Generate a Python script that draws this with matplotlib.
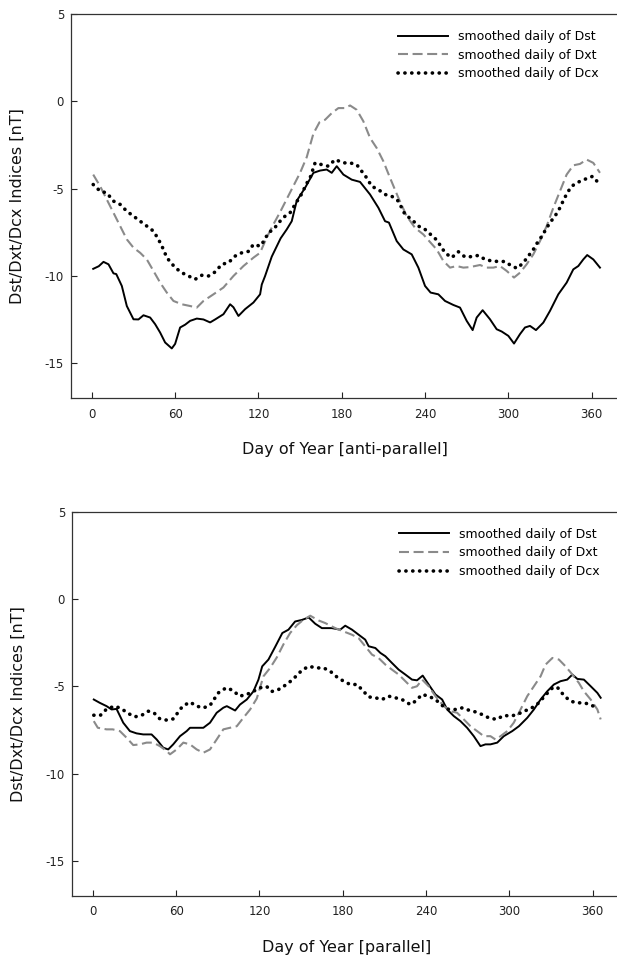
import numpy as np
import matplotlib
matplotlib.use("Agg")
import matplotlib.pyplot as plt

plt.rcParams['font.family'] = ['DejaVu Sans']
plt.rcParams['axes.unicode_minus'] = False

# ---- anti-parallel (top panel) ----
ap_dst_day = [1, 5, 8.4, 12, 15.6, 17.6, 21.6, 25.2, 30, 33.6, 37.2, 42, 45.6, 49.2, 52.8, 57.6,
              60, 63.6, 67.2, 70.8, 75.6, 80.4, 85.2, 88.8, 94.8, 99.6, 102, 105.6, 110.4, 116.4,
              121.2, 122.4, 124.8, 129.6, 136, 140.4, 144, 147.6, 153.6, 159.6, 164.4, 169.2, 172.8,
              176.4, 181.2, 187.2, 193.2, 200.4, 206.4, 211.2, 214, 219.6, 224.4, 230.4, 235.2, 240,
              244, 249.6, 254.4, 260.4, 265.2, 270, 274.3, 277.2, 281.5, 286.8, 291.6, 295.2, 300,
              304.1, 308.4, 312, 315.6, 319.9, 325.2, 330, 336, 342, 346.8, 350.4, 354, 356.8, 361.2, 366]
ap_dst = [-9.6, -9.45, -9.2, -9.34, -9.86, -9.9, -10.58, -11.73, -12.49, -12.5, -12.26, -12.39, -12.77,
          -13.25, -13.82, -14.16, -13.9, -12.96, -12.8, -12.58, -12.45, -12.5, -12.67, -12.5, -12.2,
          -11.63, -11.8, -12.3, -11.91, -11.53, -11.06, -10.5, -10.01, -8.9, -7.85, -7.34, -6.87, -5.7,
          -4.96, -4.1, -3.97, -3.91, -4.1, -3.72, -4.2, -4.49, -4.62, -5.34, -6.1, -6.87, -6.95, -8.01,
          -8.49, -8.77, -9.53, -10.58, -10.96, -11.06, -11.44, -11.67, -11.82, -12.58, -13.11, -12.39,
          -11.97, -12.49, -13.06, -13.19, -13.44, -13.88, -13.34, -12.96, -12.87, -13.11, -12.68, -12.01,
          -11.06, -10.39, -9.63, -9.44, -9.06, -8.81, -9.06, -9.53]

ap_dxt_day = [1, 6, 10.8, 15.6, 20.4, 25.2, 30, 34.8, 39.6, 44.4, 49.2, 54, 58.8, 64.8, 70.8, 75.6,
              80.4, 87.6, 94.8, 102, 109.2, 116.4, 121.2, 126, 130.8, 135.6, 140.4, 145.2, 150, 154.8,
              159.6, 164, 168, 172.8, 177.6, 182.4, 186, 190.8, 195.6, 200.4, 205.2, 210, 214.8, 220.8,
              226.8, 232.8, 238.8, 244, 248.4, 253.2, 258, 262.8, 267.6, 272.4, 279.6, 284.4, 289.2, 294,
              298.8, 304.1, 308.4, 313.2, 318, 322.8, 327.6, 332.4, 337.2, 342, 346.8, 351.6, 356.4,
              361.2, 366]
ap_dxt = [-4.2, -4.87, -5.63, -6.39, -7.15, -7.91, -8.39, -8.68, -9.06, -9.72, -10.39, -10.96, -11.44,
          -11.63, -11.73, -11.82, -11.44, -11.06, -10.67, -10.01, -9.44, -8.96, -8.68, -7.8, -7.05,
          -6.35, -5.6, -4.85, -4.1, -3.2, -1.85, -1.2, -1.06, -0.68, -0.39, -0.39, -0.24, -0.49, -1.15,
          -2.1, -2.68, -3.44, -4.39, -5.53, -6.58, -7.25, -7.63, -8.1, -8.49, -9.15, -9.53, -9.44, -9.53,
          -9.5, -9.38, -9.53, -9.53, -9.44, -9.72, -10.1, -9.82, -9.34, -8.77, -8.01, -7.15, -6.1,
          -5.15, -4.2, -3.67, -3.59, -3.34, -3.53, -4.1]

ap_dcx_day = [1, 6, 10.8, 15.6, 20.4, 25.2, 30, 34.8, 39.6, 44.4, 48, 51.6, 54, 60, 64.8, 69.6, 74.4,
              79.2, 84, 88.8, 93.6, 98.4, 103.2, 108, 112.8, 116.4, 121.2, 124, 127.2, 130.8, 135.6,
              139.2, 142.8, 146.4, 151.2, 154.8, 157.2, 160.8, 165.6, 170.4, 175.2, 181.2, 186, 190.8,
              194.4, 198, 201.6, 206.4, 211.2, 216, 220.8, 225.6, 230.4, 235.2, 240, 244, 247.9, 251.3,
              254.4, 259.2, 264, 268.8, 273.6, 278.4, 283.2, 288, 292.8, 297.6, 302.4, 306.4, 310.8,
              314.4, 318, 321.6, 324.7, 327.6, 331.2, 334.3, 337.2, 339.6, 342.4, 345.6, 349.2, 352.8,
              356.4, 360.7, 365.5]
ap_dcx = [-4.77, -5.15, -5.25, -5.72, -5.91, -6.3, -6.58, -6.87, -7.15, -7.44, -7.91, -8.49, -8.96,
          -9.53, -9.82, -10.01, -10.2, -9.97, -10.01, -9.78, -9.34, -9.25, -8.87, -8.68, -8.6, -8.2,
          -8.3, -8.0, -7.53, -7.34, -6.87, -6.58, -6.39, -5.91, -5.3, -4.7, -4.39, -3.53, -3.63, -3.72,
          -3.34, -3.53, -3.53, -3.63, -4.01, -4.39, -4.87, -5.06, -5.34, -5.44, -5.72, -6.49, -6.77,
          -7.15, -7.34, -7.63, -7.91, -8.29, -8.68, -8.96, -8.62, -8.92, -8.9, -8.83, -9.06, -9.15,
          -9.18, -9.18, -9.44, -9.57, -9.25, -8.87, -8.49, -8.01, -7.67, -7.25, -6.83, -6.49, -6.1,
          -5.69, -5.25, -4.87, -4.68, -4.54, -4.43, -4.3, -4.73]

# ---- parallel (bottom panel) ----
p_dst_day = [0.7, 5, 9.9, 13.5, 17.1, 21.9, 26.7, 31.5, 36.3, 42.3, 46, 50.7, 54.3, 57.9, 62.8, 67.6,
             70, 74.8, 79.6, 84.4, 89.2, 94, 96.5, 102.5, 106, 110.9, 115.7, 119.3, 122, 126.5, 131.3,
             136.5, 140.9, 145.7, 150.6, 155.5, 160.2, 165, 172.2, 178.2, 181.8, 186.7, 191.5, 196.2,
             198.7, 203.5, 207.1, 210.7, 215.5, 220.3, 225.1, 229.9, 233.5, 237.6, 241.9, 246.8, 251.6,
             255.2, 260, 264.8, 269.6, 274.4, 279.2, 282.8, 286.4, 291.3, 296, 302.1, 306.9, 312.9,
             317.7, 322.5, 327.3, 332.1, 336.9, 341.7, 345.4, 349, 353.7, 358.6, 363.4, 365.8]
p_dst = [-5.76, -5.95, -6.14, -6.33, -6.3, -7.09, -7.57, -7.7, -7.76, -7.76, -8.05, -8.52, -8.62, -8.33,
         -7.86, -7.57, -7.38, -7.38, -7.38, -7.09, -6.52, -6.23, -6.14, -6.39, -6.05, -5.76, -5.29, -4.62,
         -3.86, -3.47, -2.75, -1.95, -1.76, -1.29, -1.2, -1.06, -1.42, -1.67, -1.67, -1.76, -1.53, -1.76,
         -2.05, -2.33, -2.71, -2.81, -3.09, -3.28, -3.67, -4.05, -4.33, -4.62, -4.66, -4.39, -4.9, -5.47,
         -5.76, -6.33, -6.71, -7.0, -7.38, -7.86, -8.43, -8.33, -8.33, -8.23, -7.86, -7.57, -7.29, -6.81,
         -6.33, -5.76, -5.29, -4.9, -4.71, -4.62, -4.33, -4.58, -4.62, -5.0, -5.38, -5.66]

p_dxt_day = [0.7, 3.6, 9.9, 14.3, 19.5, 24.3, 29.1, 33.9, 38.7, 43.5, 48.3, 53.2, 55.6, 60.4, 65.2, 70,
             74.8, 79.6, 84.4, 89.2, 94, 98.8, 103.7, 108.4, 113.3, 118.1, 122.9, 127.7, 132.5, 137.3,
             142.1, 147, 151.7, 156.6, 162.6, 167.4, 174.6, 180.6, 186.7, 191.4, 196.2, 201.1, 205.8,
             210.7, 215.5, 220.3, 225.1, 229.9, 233.5, 237.2, 241.9, 246.8, 252.8, 257.6, 262.4, 267.2,
             272, 276.8, 281.6, 286.4, 290, 293.7, 298.5, 303.2, 308.1, 312.9, 317.7, 322.5, 326.1, 331,
             335.7, 340.5, 345.4, 350.1, 353.7, 358.6, 363.4, 365.8]
p_dxt = [-7.0, -7.38, -7.47, -7.47, -7.57, -7.95, -8.37, -8.33, -8.23, -8.23, -8.43, -8.71, -8.9, -8.62,
         -8.23, -8.33, -8.62, -8.81, -8.62, -8.05, -7.47, -7.38, -7.29, -6.81, -6.33, -5.7, -4.43, -3.95,
         -3.35, -2.6, -1.95, -1.5, -1.19, -0.96, -1.23, -1.38, -1.67, -1.86, -2.05, -2.24, -2.71, -3.19,
         -3.38, -3.76, -4.05, -4.33, -4.71, -5.09, -5.0, -4.62, -5.0, -5.57, -6.14, -6.43, -6.52, -6.9,
         -7.29, -7.57, -7.86, -7.86, -8.05, -7.86, -7.57, -7.09, -6.33, -5.57, -5.0, -4.43, -3.76, -3.38,
         -3.47, -3.86, -4.33, -4.81, -5.29, -5.76, -6.33, -6.9]

p_dcx_day = [0.7, 5.5, 10, 15.9, 20.7, 25.5, 30.3, 35.1, 39.9, 44, 48.3, 53.2, 57.9, 64.7, 70, 74.8,
             79.6, 84.4, 90.4, 96, 100.8, 105.6, 110.9, 115.7, 120.5, 125.3, 128.9, 133.7, 138.5, 142.5,
             147, 150.6, 155.5, 161.4, 166.2, 171, 175.8, 180.6, 185.4, 190.3, 195, 198.6, 203.5, 208.3,
             213.1, 217.9, 222.7, 228.7, 232.3, 237.2, 241.9, 246.8, 251.6, 256.4, 261.2, 266, 270.8,
             275.6, 280.4, 285.2, 290.8, 296, 300.9, 305.7, 310.5, 315.3, 321.3, 326.1, 331, 334.5, 338,
             341, 344.2, 349, 353.7, 358.6, 363.4]
p_dcx = [-6.66, -6.66, -6.3, -6.14, -6.29, -6.56, -6.75, -6.67, -6.43, -6.52, -6.87, -6.94, -6.87, -6.14,
         -5.91, -6.14, -6.24, -6.1, -5.38, -5.09, -5.23, -5.57, -5.47, -5.29, -5.09, -5.02, -5.3, -5.19,
         -4.95, -4.71, -4.38, -4.08, -3.86, -3.95, -3.95, -4.14, -4.47, -4.71, -4.9, -4.9, -5.29, -5.61,
         -5.66, -5.76, -5.57, -5.66, -5.76, -6.05, -5.86, -5.47, -5.57, -5.76, -6.1, -6.33, -6.33, -6.24,
         -6.37, -6.47, -6.62, -6.81, -6.9, -6.67, -6.71, -6.62, -6.43, -6.29, -5.95, -5.5, -5.1, -5.05,
         -5.4, -5.65, -5.86, -5.95, -5.95, -6.05, -6.29]

labels = ["smoothed daily of Dst", "smoothed daily of Dxt", "smoothed daily of Dcx"]
x_ticks = [0, 60, 120, 180, 240, 300, 360]
y_ticks = [-15, -10, -5, 0, 5]

fig = plt.figure(figsize=(6.17, 9.6), dpi=100)
ax_top = fig.add_axes([71 / 617, 562 / 960, 548.4 / 617, 384 / 960])
ax_bot = fig.add_axes([72 / 617, 64.3 / 960, 548.4 / 617, 384 / 960])

panels = [
    (ax_top, ap_dst_day, ap_dst, ap_dxt_day, ap_dxt, ap_dcx_day, ap_dcx, "Day of Year [anti-parallel]"),
    (ax_bot, p_dst_day, p_dst, p_dxt_day, p_dxt, p_dcx_day, p_dcx, "Day of Year [parallel]"),
]

for ax, d1, v1, d2, v2, d3, v3, xlab in panels:
    ax.plot(d1, v1, color='black', lw=1.4, label=labels[0])
    ax.plot(d2, v2, color='#8a8a8a', lw=1.5, dashes=(4.8, 2.2), label=labels[1])
    ax.plot(d3, v3, color='black', lw=2.6, dashes=(0.05, 1.85), dash_capstyle='round',
            label=labels[2])

    ax.set_xlim(-15, 380)
    ax.set_ylim(-17, 5)
    ax.set_xticks(x_ticks)
    ax.set_yticks(y_ticks)
    ax.tick_params(direction='in', length=4, width=0.8, labelsize=8.5, colors='#222222')
    ax.tick_params(axis='x', pad=7)
    ax.tick_params(axis='y', pad=5)
    for side in ['left', 'bottom', 'top']:
        ax.spines[side].set_linewidth(0.9)
        ax.spines[side].set_color('#333333')
    ax.spines['right'].set_visible(False)

    ax.set_xlabel(xlab, fontsize=11.5, color='#111111')
    ax.set_ylabel("Dst/Dxt/Dcx Indices [nT]", fontsize=11.5, color='#111111')
    ax.xaxis.set_label_coords(0.5, -0.115)
    ax.yaxis.set_label_coords(-0.084, 0.5)

    ax.legend(loc='upper left', bbox_to_anchor=(0.597, 0.958), frameon=False, fontsize=9,
              handlelength=4.0, handletextpad=0.8, labelspacing=0.45, borderpad=0,
              borderaxespad=0)

fig.savefig("out.png", dpi=100)
